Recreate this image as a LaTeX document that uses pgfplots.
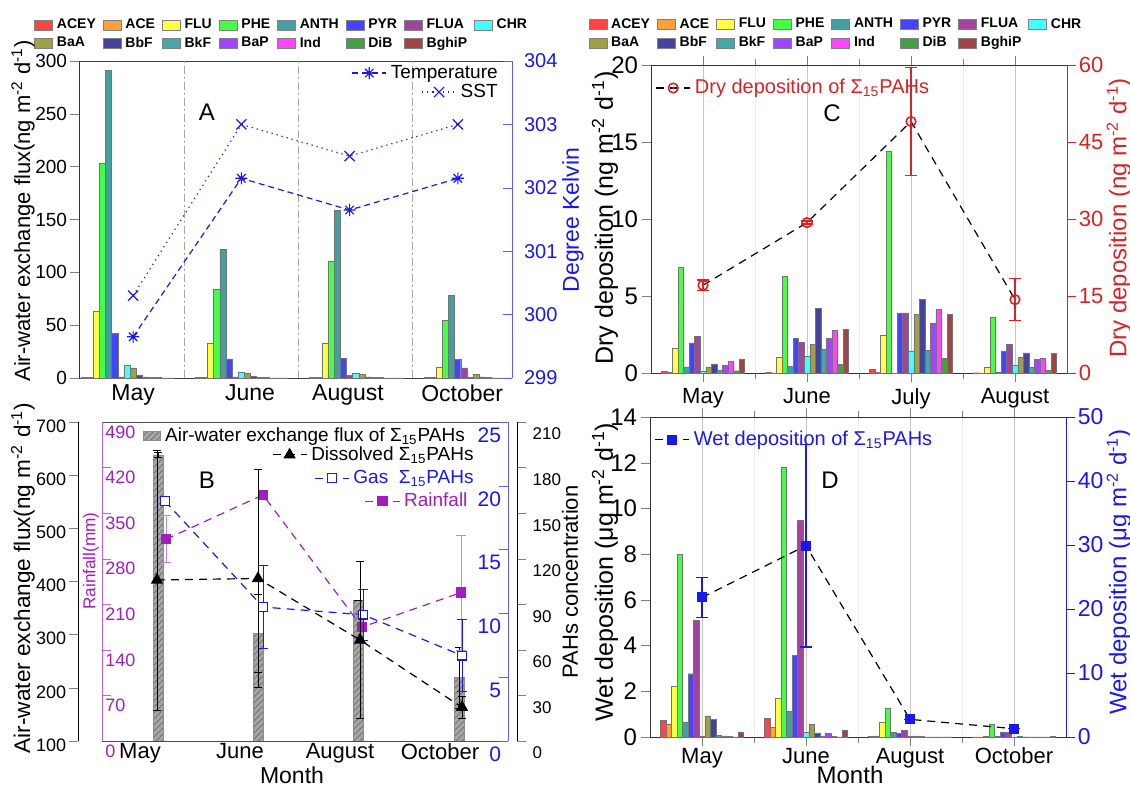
\documentclass[border=0pt]{standalone}
\usepackage{fontspec}
\setmainfont{Liberation Sans}
\usepackage{pgfplots}
\pgfplotsset{compat=1.18}
\usepackage{pgfplotstable}
\usetikzlibrary{patterns}

\definecolor{cBlue}{RGB}{25,25,235}
\definecolor{cRed}{RGB}{215,35,35}
\definecolor{cPurp}{RGB}{160,30,190}
\definecolor{cACEY}{RGB}{255,68,68}
\definecolor{cACE}{RGB}{255,160,64}
\definecolor{cFLU}{RGB}{255,255,68}
\definecolor{cPHE}{RGB}{68,255,68}
\definecolor{cANTH}{RGB}{68,160,160}
\definecolor{cPYR}{RGB}{68,68,255}
\definecolor{cFLUA}{RGB}{160,68,160}
\definecolor{cCHR}{RGB}{68,255,255}
\definecolor{cBaA}{RGB}{160,160,68}
\definecolor{cBbF}{RGB}{68,68,160}
\definecolor{cBkF}{RGB}{68,168,168}
\definecolor{cBaP}{RGB}{160,68,255}
\definecolor{cInd}{RGB}{255,68,255}
\definecolor{cDiB}{RGB}{68,160,68}
\definecolor{cBghiP}{RGB}{160,68,68}

\newcommand{\F}[1]{\fontsize{#1}{#1}\selectfont}

\pgfdeclareplotmark{ast8}{%
 \pgfpathmoveto{\pgfqpoint{-\pgfplotmarksize}{0pt}}\pgfpathlineto{\pgfqpoint{\pgfplotmarksize}{0pt}}%
 \pgfpathmoveto{\pgfqpoint{0pt}{-\pgfplotmarksize}}\pgfpathlineto{\pgfqpoint{0pt}{\pgfplotmarksize}}%
 \pgfpathmoveto{\pgfqpoint{-0.707\pgfplotmarksize}{-0.707\pgfplotmarksize}}\pgfpathlineto{\pgfqpoint{0.707\pgfplotmarksize}{0.707\pgfplotmarksize}}%
 \pgfpathmoveto{\pgfqpoint{-0.707\pgfplotmarksize}{0.707\pgfplotmarksize}}\pgfpathlineto{\pgfqpoint{0.707\pgfplotmarksize}{-0.707\pgfplotmarksize}}%
 \pgfusepathqstroke}
\pgfdeclareplotmark{odot}{%
 \pgfpathcircle{\pgfpointorigin}{\pgfplotmarksize}\pgfusepathqstroke
 \pgfpathcircle{\pgfpointorigin}{0.3\pgfplotmarksize}\pgfusepathqfill}

\pgfplotsset{
 every axis/.append style={scale only axis, anchor=south west,
   /pgf/number format/assume math mode=true},
 pahbar/.style={ybar, bar width=#1, bar shift=0pt, draw=black!55, line width=0.2pt},
 toplegend/.style={legend columns=8, legend cell align=left,
   legend style={draw=none, fill=none, inner sep=0pt, font=\bfseries\F{7}, row sep=-1.2pt,
     /tikz/every even column/.append style={column sep=1.5pt}},
   legend image code/.code={\draw[##1, draw=black!50, line width=0.3pt] (0pt,-2.5pt) rectangle (9pt,2.5pt);}},
 nolegbox/.style={legend style={draw=none, fill=none, inner sep=0pt, font=\F{#1}}},
}

% Panel A: air-water exchange flux (ng m-2 d-1)
\pgfplotstableread{
x ACEY ACE FLU PHE ANTH PYR FLUA CHR BaA BbF BkF BaP Ind DiB BghiP
1 0.6 0.5 63 203 291 42 1.0 12 9.5 3.0 1.0 0.5 0.3 0.2 0.2
2 0.5 0.4 32.5 84 121.5 18 1.0 5.7 4.7 1.5 0.5 0.3 0.2 0.1 0.1
3 0.5 0.5 33 110.5 159 18.3 2.5 4.7 3.5 1.0 0.5 0.3 0.2 0.1 0.1
4 0.5 0.5 10.4 54.6 78.3 17.4 9.5 0.5 3.2 1.0 0.3 0.2 0.1 0.1 0.1
}\tabA
% Panel C: dry deposition (ng m-2 d-1)
\pgfplotstableread{
x ACEY ACE FLU PHE ANTH PYR FLUA CHR BaA BbF BkF BaP Ind DiB BghiP
1 0.13 0.05 1.63 6.9 0.4 1.95 2.38 0.13 0.4 0.6 0.2 0.5 0.76 0.15 0.87
2 0.05 0.02 1.04 6.28 0.43 2.27 2.0 1.08 1.86 4.22 1.54 2.27 2.77 0.56 2.84
3 0.24 0.05 2.45 14.4 0.0 3.9 3.9 1.43 3.79 4.79 1.47 3.25 4.14 0.93 3.81
4 0.02 0.01 0.35 3.64 0.05 1.43 1.84 0.48 1.0 1.3 0.39 0.87 0.93 0.17 1.26
}\tabC
% Panel D: wet deposition (ug m-2 d-1)
\pgfplotstableread{
x ACEY ACE FLU PHE ANTH PYR FLUA CHR BaA BbF BkF BaP Ind DiB BghiP
1 0.73 0.58 2.23 7.99 0.66 2.77 5.1 0.03 0.92 0.76 0.08 0.05 0.02 0.01 0.22
2 0.83 0.41 1.72 11.81 1.12 3.57 9.48 0.22 0.54 0.18 0.05 0.15 0.02 0.01 0.29
3 0.02 0.05 0.63 1.28 0.19 0.17 0.29 0.02 0.05 0.02 0.01 0.01 0.01 0.01 0.01
4 0.01 0.01 0.03 0.58 0.02 0.22 0.22 0.01 0.03 0.01 0.01 0.01 0.01 0.01 0.02
}\tabD
\pgfplotstableread{
x y e
1 17.1 1.0
2 29.3 0.3
3 49.0 10.5
4 14.3 4.1
}\dryT
\pgfplotstableread{
x y e
1 21.8 3.1
2 29.9 15.8
3 2.76 0
4 1.3 0
}\wetT
% Panel B
\pgfplotstableread{
x y e
1.18 638 4
2.18 303 73
3.18 364 0
4.19 219 58
}\flxT
\pgfplotstableread{
x y e
1.17 106 85.6
2.18 107 72
3.20 66.5 51.5
4.22 22.2 7.4
}\dissT
\pgfplotstableread{
x y e
1.25 18.8 0
2.23 10.5 3.27
3.23 9.9 2.0
4.22 6.7 2.85
}\gasT
\pgfplotstableread{
x y e
1.26 310 36
2.23 378 0
3.22 175 0
4.21 228 88.6
}\rainT

\newcommand{\pahbars}[2]{%
\addplot[pahbar=#2, fill=cACEY] table[x expr=\thisrow{x}-7*#2, y=ACEY]{#1};
\addplot[pahbar=#2, fill=cACE] table[x expr=\thisrow{x}-6*#2, y=ACE]{#1};
\addplot[pahbar=#2, fill=cFLU] table[x expr=\thisrow{x}-5*#2, y=FLU]{#1};
\addplot[pahbar=#2, fill=cPHE] table[x expr=\thisrow{x}-4*#2, y=PHE]{#1};
\addplot[pahbar=#2, fill=cANTH] table[x expr=\thisrow{x}-3*#2, y=ANTH]{#1};
\addplot[pahbar=#2, fill=cPYR] table[x expr=\thisrow{x}-2*#2, y=PYR]{#1};
\addplot[pahbar=#2, fill=cFLUA] table[x expr=\thisrow{x}-1*#2, y=FLUA]{#1};
\addplot[pahbar=#2, fill=cCHR] table[x expr=\thisrow{x}, y=CHR]{#1};
\addplot[pahbar=#2, fill=cBaA] table[x expr=\thisrow{x}+1*#2, y=BaA]{#1};
\addplot[pahbar=#2, fill=cBbF] table[x expr=\thisrow{x}+2*#2, y=BbF]{#1};
\addplot[pahbar=#2, fill=cBkF] table[x expr=\thisrow{x}+3*#2, y=BkF]{#1};
\addplot[pahbar=#2, fill=cBaP] table[x expr=\thisrow{x}+4*#2, y=BaP]{#1};
\addplot[pahbar=#2, fill=cInd] table[x expr=\thisrow{x}+5*#2, y=Ind]{#1};
\addplot[pahbar=#2, fill=cDiB] table[x expr=\thisrow{x}+6*#2, y=DiB]{#1};
\addplot[pahbar=#2, fill=cBghiP] table[x expr=\thisrow{x}+7*#2, y=BghiP]{#1};
}
\newcommand{\paheleg}{\legend{ACEY,ACE,FLU,PHE,ANTH,PYR,FLUA,CHR,BaA,BbF,BkF,BaP,Ind,DiB,BghiP}}

\begin{document}
\begin{tikzpicture}
% ================= Panel A =================
\begin{axis}[at={(39.5pt,-189pt)}, width=216.5pt, height=158.5pt,
  xmin=0.58, xmax=4.368, ymin=0, ymax=300, ytick={0,50,...,300},
  xtick=\empty, extra x ticks={1.5,2.5,3.5}, extra x tick labels={},
  extra x tick style={grid=major, major grid style={black!35, line width=0.5pt, dash pattern=on 4pt off 1.5pt on 1pt off 1.5pt}, major tick length=0pt},
  axis x line*=box, axis y line*=left, tick align=outside,
  x axis line style={black!75}, y axis line style={black!80},
  tick label style={font=\F{9.5}},
  yticklabel style={inner sep=1.5pt},
  toplegend, legend style={at={(-0.104,1.148)}, anchor=north west}]
\pahbars{\tabA}{0.0538}
\paheleg
\end{axis}
\begin{axis}[at={(39.5pt,-189pt)}, width=216.5pt, height=158.5pt,
  xmin=0.5, xmax=4.5, ymin=299, ymax=304, ytick={299,...,304},
  axis y line*=right, axis x line*=bottom, x axis line style={draw=none},
  xtick={1,2.08,2.985,4.04}, xticklabels={May,June,August,October}, xtick style={draw=none},
  xticklabel style={font=\F{11.5}},
  y axis line style={cBlue!70}, ytick style={cBlue!70}, tick align=inside,
  yticklabel style={text=cBlue, font=\F{10}, xshift=2.5pt},
  nolegbox=9.5, legend style={at={(0.977,0.962)}, anchor=east}]
\addplot[cBlue, line width=0.6pt, dash pattern=on 3pt off 2pt, mark=ast8, mark size=3pt, mark options={solid}]
  coordinates {(1,299.65) (2,302.15) (3,301.65) (4,302.15)};
\addlegendentry{Temperature}
\end{axis}
\begin{axis}[at={(39.5pt,-189pt)}, width=216.5pt, height=158.5pt,
  xmin=0.5, xmax=4.5, ymin=299, ymax=304, hide axis,
  nolegbox=9.5, legend style={at={(0.977,0.902)}, anchor=east}]
\addplot[cBlue, line width=0.6pt, dotted, mark=x, mark size=3.6pt, mark options={solid}]
  coordinates {(1,300.3) (2,303.0) (3,302.5) (4,303.0)};
\addlegendentry{SST}
\end{axis}

% ================= Panel C =================
\begin{axis}[at={(325.5pt,-186.5pt)}, width=208pt, height=154pt,
  xmin=0.5, xmax=4.5, ymin=0, ymax=20, ytick={0,5,...,20},
  xtick={1,2,3,4}, xticklabels={May,June,July,August}, minor xtick={1.5,2.5,3.5},
  xmajorgrids, xminorgrids, major x grid style={black!22}, minor x grid style={black!8},
  axis x line*=box, axis y line*=left, tick align=outside,
  x axis line style={black!80}, y axis line style={black!80},
  tick label style={font=\F{12}}, xticklabel style={font=\F{11}},
  yticklabel style={inner sep=2pt},
  toplegend, legend style={at={(-0.151,1.166)}, anchor=north west}]
\pahbars{\tabC}{0.0534}
\paheleg
\end{axis}
\begin{axis}[at={(325.5pt,-186.5pt)}, width=208pt, height=154pt,
  xmin=0.5, xmax=4.5, ymin=0, ymax=60, ytick={0,15,...,60},
  axis y line*=right, axis x line=none, tick align=outside,
  y axis line style={cRed}, ytick style={cRed}, yticklabel style={text=cRed, font=\F{11}, inner sep=1.5pt},
  nolegbox=10, legend style={at={(0.01,0.968)}, anchor=north west}]
\addplot[black, line width=0.6pt, dash pattern=on 4pt off 3pt, mark=odot, mark size=2.4pt,
  mark options={cRed, solid, line width=0.8pt},
  error bars/.cd, y dir=both, y explicit, error bar style={cRed, solid, line width=0.8pt},
  error mark options={cRed, rotate=90, mark size=3pt, line width=0.8pt}]
  table[x=x, y=y, y error=e]{\dryT};
\addlegendentry{\textcolor{cRed}{Dry deposition of Σ\textsubscript{15}PAHs}}
\end{axis}

% ================= Panel D =================
\begin{axis}[at={(325pt,-368.5pt)}, width=208pt, height=160pt,
  xmin=0.5, xmax=4.5, ymin=0, ymax=14, ytick={0,2,...,14},
  xtick={1,2,3,4}, xticklabels={May,June,August,October}, minor xtick={1.5,2.5,3.5},
  xmajorgrids, xminorgrids, major x grid style={black!22}, minor x grid style={black!8},
  axis x line*=box, axis y line*=left, tick align=outside,
  x axis line style={black!80}, y axis line style={black!80},
  tick label style={font=\F{12}}, xticklabel style={font=\F{11}, inner sep=1pt},
  yticklabel style={inner sep=2pt}]
\pahbars{\tabD}{0.0534}
\end{axis}
\begin{axis}[at={(325pt,-368.5pt)}, width=208pt, height=160pt,
  xmin=0.5, xmax=4.5, ymin=0, ymax=50, ytick={0,10,...,50},
  axis y line*=right, axis x line=none, tick align=outside,
  y axis line style={cBlue}, ytick style={cBlue}, yticklabel style={text=cBlue, font=\F{11.5}, inner sep=1.5pt},
  nolegbox=10, legend style={at={(0.01,0.97)}, anchor=north west}]
\addplot[black, line width=0.6pt, dash pattern=on 4pt off 3pt, mark=square*, mark size=2.2pt,
  mark options={cBlue, solid},
  error bars/.cd, y dir=both, y explicit, error bar style={cBlue, solid, line width=0.8pt},
  error mark options={cBlue, rotate=90, mark size=3pt, line width=0.8pt}]
  table[x=x, y=y, y error=e]{\wetT};
\addlegendentry{\textcolor{cBlue}{Wet deposition of Σ\textsubscript{15}PAHs}}
\end{axis}

% ================= Panel B =================
\begin{axis}[at={(39pt,-370.5pt)}, width=215pt, height=159.5pt,
  xmin=0.38, xmax=4.68, ymin=100, ymax=700, ytick={100,200,...,700},
  axis y line*=left, axis x line=none, tick align=outside,
  yticklabel style={font=\F{9}, yshift=-2pt, inner sep=1.5pt},
  nolegbox=9.5, legend style={at={(0.151,0.956)}, anchor=west},
  legend image code/.code={\draw[#1] (0pt,-2.3pt) rectangle (8.5pt,2.3pt);}]
\addplot[ybar, bar width=0.1, bar shift=0pt, fill=gray!70, draw=black!45,
  postaction={pattern=north east lines, pattern color=black!55},
  error bars/.cd, y dir=both, y explicit, error bar style={black, line width=0.4pt},
  error mark options={rotate=90, mark size=2pt, black}]
  table[x=x, y=y, y error=e]{\flxT};
\addlegendentry{Air-water exchange flux of Σ\textsubscript{15}PAHs}
\end{axis}
\begin{axis}[at={(51pt,-370.5pt)}, width=203pt, height=159.5pt,
  xmin=0.62, xmax=4.68, ymin=0, ymax=490, ytick={0,70,...,490},
  axis y line*=left, axis x line*=box, tick align=inside,
  y axis line style={cPurp!70}, ytick style={cPurp!70},
  yticklabel style={text=cPurp, font=\F{9}, anchor=west, yshift=-5pt, xshift=-1.8pt},
  x axis line style={black!70},
  xtick={1,2,3,4}, xticklabels={May,June,August,October}, xtick style={draw=none},
  xticklabel style={font=\F{11}, inner sep=1pt},
  nolegbox=9.5, legend style={at={(0.911,0.752)}, anchor=east}]
\addplot[cPurp, line width=0.6pt, dash pattern=on 4pt off 3pt, mark=square*, mark size=2.3pt,
  mark options={solid},
  error bars/.cd, y dir=both, y explicit, error bar style={cPurp!55, solid, line width=0.5pt},
  error mark options={cPurp!55, rotate=90, mark size=2.5pt}]
  table[x=x, y=y, y error=e]{\rainT};
\addlegendentry{\textcolor{cPurp}{Rainfall}}
\end{axis}
\begin{axis}[at={(51pt,-370.5pt)}, width=203pt, height=159.5pt,
  xmin=0.62, xmax=4.68, ymin=0, ymax=25, ytick={0,5,...,25},
  axis y line*=right, axis x line=none, tick align=inside,
  y axis line style={cBlue!70}, ytick style={cBlue!70},
  yticklabel style={text=cBlue, font=\F{10.5}, anchor=east, yshift=-6.5pt},
  nolegbox=9.5, legend style={at={(0.926,0.824)}, anchor=east}]
\addplot[cBlue, line width=0.6pt, dash pattern=on 4pt off 3pt, mark=square*, mark size=2.2pt,
  mark options={solid, fill=white},
  error bars/.cd, y dir=both, y explicit, error bar style={cBlue, solid, line width=0.5pt},
  error mark options={cBlue, rotate=90, mark size=2.5pt}]
  table[x=x, y=y, y error=e]{\gasT};
\addlegendentry{\textcolor{cBlue}{Gas\ \ Σ\textsubscript{15}PAHs}}
\end{axis}
\begin{axis}[at={(51pt,-370.5pt)}, width=207.5pt, height=159.5pt,
  xmin=0.62, xmax=4.77, ymin=0, ymax=210, ytick={0,30,...,210},
  axis y line*=right, axis x line=none, tick align=outside,
  yticklabel style={font=\F{8.5}, yshift=-6pt},
  nolegbox=9.5, legend style={at={(0.906,0.897)}, anchor=east}]
\addplot[black, line width=0.6pt, dash pattern=on 4pt off 3pt, mark=triangle*, mark size=3pt,
  mark options={solid},
  error bars/.cd, y dir=both, y explicit, error bar style={black, solid, line width=0.4pt},
  error mark options={black, rotate=90, mark size=2pt}]
  table[x=x, y=y, y error=e]{\dissT};
\addlegendentry{Dissolved Σ\textsubscript{15}PAHs}
\end{axis}

% ================= titles and labels =================
\node[font=\F{12}] at (103.5pt,-56pt) {A};
\node[font=\F{12}] at (103.5pt,-240pt) {B};
\node[font=\F{12}] at (416pt,-56.5pt) {C};
\node[font=\F{12}] at (415pt,-240pt) {D};
\node[rotate=90, font=\F{11}, inner sep=0pt] at (11.5pt,-105.5pt) {Air-water exchange flux(ng m\textsuperscript{-2} d\textsuperscript{-1})};
\node[rotate=90, font=\F{11.5}, text=cBlue, inner sep=0pt] at (286.5pt,-110pt) {Degree Kelvin};
\node[rotate=90, font=\F{11.3}, inner sep=0pt] at (11.5pt,-289pt) {Air-water exchange flux(ng m\textsuperscript{-2} d\textsuperscript{-1})};
\node[rotate=90, font=\F{8.6}, text=cPurp, inner sep=0pt] at (45.5pt,-280.5pt) {Rainfall(mm)};
\node[rotate=90, font=\F{11}, inner sep=0pt] at (285pt,-291pt) {PAHs concentration};
\node[font=\F{11.5}, inner sep=0pt] at (146pt,-387.5pt) {Month};
\node[rotate=90, font=\F{12.5}, inner sep=0pt] at (302.5pt,-109pt) {Dry deposition (ng m\textsuperscript{-2} d\textsuperscript{-1})};
\node[rotate=90, font=\F{12}, text=cRed, inner sep=0pt] at (559.5pt,-109pt) {Dry deposition (ng m\textsuperscript{-2} d\textsuperscript{-1})};
\node[rotate=90, font=\F{12.5}, inner sep=0pt] at (302.5pt,-286pt) {Wet deposition (μg m\textsuperscript{-2} d\textsuperscript{-1})};
\node[rotate=90, font=\F{12}, text=cBlue, inner sep=0pt] at (559.5pt,-286pt) {Wet deposition (μg m\textsuperscript{-2} d\textsuperscript{-1})};
\node[font=\F{12}, inner sep=0pt] at (425pt,-387.5pt) {Month};
\pgfresetboundingbox
\useasboundingbox (0pt,0pt) rectangle (565pt,-394.5pt);
\end{tikzpicture}
\end{document}
